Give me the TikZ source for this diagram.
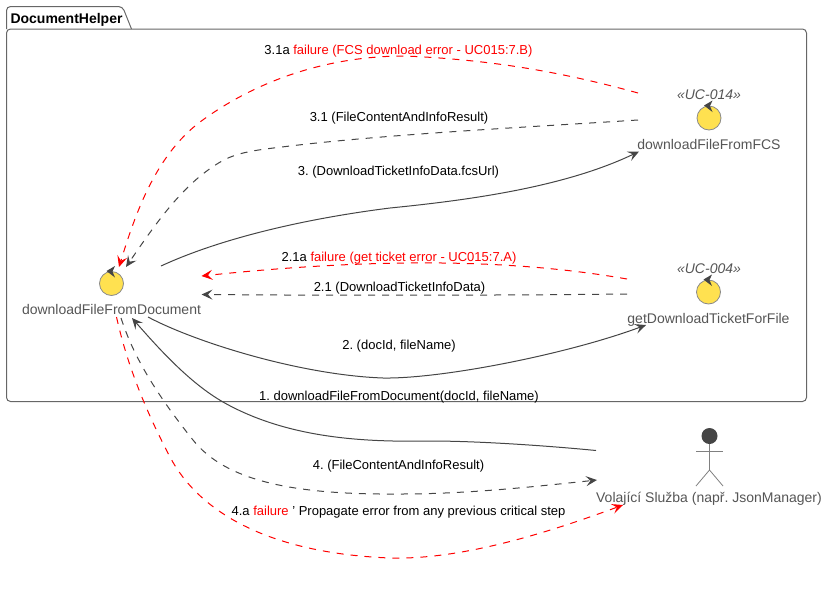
\documentclass[tikz,border=0pt]{standalone}
\usepackage{fontspec}
\setmainfont{Liberation Sans}
\usetikzlibrary{arrows.meta}
\definecolor{ink}{HTML}{454545}
\definecolor{softink}{HTML}{555555}
\definecolor{ucfill}{HTML}{FFE150}
\definecolor{ucline}{HTML}{8A8A8A}
\definecolor{frameline}{HTML}{666666}
\definecolor{stick}{HTML}{808080}
\tikzset{
  ucase/.style={circle,draw=ucline,fill=ucfill,line width=0.8pt,minimum size=24pt,inner sep=0pt},
  uclabel/.style={anchor=base,text=softink,inner sep=0pt,font=\fontsize{14}{16}\selectfont},
  ucster/.style={anchor=base,text=softink,inner sep=0pt,font=\fontsize{14}{16}\selectfont\itshape},
  edgetext/.style={anchor=base,text=black,inner sep=0pt,font=\fontsize{13}{15}\selectfont},
  flowtip/.style={-{Stealth[length=11pt,width=10pt,inset=4.5pt]}},
  solidflow/.style={draw=ink,line width=1pt,flowtip},
  backflow/.style={draw=ink,line width=1pt,dash pattern=on 7pt off 7pt,flowtip},
  failflow/.style={draw=red,line width=1pt,dash pattern=on 7pt off 7pt,flowtip},
}
\begin{document}
\frenchspacing
\begin{tikzpicture}[x=1pt,y=-1pt]
\useasboundingbox (0,0) rectangle (828,598);
% package
\draw[frameline,line width=1pt,rounded corners=4pt] (6.5,29) -- (6.5,6.5) -- (122.5,6.5) -- (131.5,29);
\draw[frameline,line width=1pt,rounded corners=4pt] (6.5,29) rectangle (806.5,401.5);
\node[anchor=base west,inner sep=0pt,font=\fontsize{14}{16}\selectfont\bfseries] (pkg) at (10.3,23.3) {DocumentHelper};
% use cases
\node[ucase] (doc) at (111.5,283.5) {};
\node[ucase] (fcs) at (709,118) {};
\node[ucase] (tick) at (708.5,292) {};
\foreach \n in {doc,fcs,tick}{
  \fill[ink,shift={(\n.center)}] (-5,-12.5) -- (3.5,-17.5) -- (1,-12) -- (3.5,-6) -- cycle;
}
\node[uclabel] (docl) at (111.5,314) {downloadFileFromDocument};
\node[uclabel] (fcsl) at (709,149) {downloadFileFromFCS};
\node[uclabel] (tickl) at (708.5,323) {getDownloadTicketForFile};
\node[ucster] (fcss) at (709,99.5) {«UC-014»};
\node[ucster] (ticks) at (709,273) {«UC-004»};
% actor
\node[circle,fill=ink,minimum size=16pt,inner sep=0pt] (head) at (709.5,436) {};
\coordinate (hip) at (709.5,470);
\draw[stick,line width=0.8pt] (head.south) -- (hip);
\draw[stick,line width=0.8pt] (696,451.5) -- (723,451.5);
\draw[stick,line width=0.8pt] (696,486) -- (hip) -- (723,486);
\node[uclabel] (caller) at (709,502.5) {Volající Služba (např. JsonManager)};
% connector ends
\coordinate (a3a) at (638,93);   \coordinate (b3a) at (119,267);
\coordinate (a31) at (638,120);  \coordinate (b31) at (126,267);
\coordinate (a3) at (161,266);   \coordinate (b3) at (639,151.5);
\coordinate (a21a) at (627,279); \coordinate (b21a) at (201.5,276);
\coordinate (a21) at (627,294);  \coordinate (b21) at (201.5,294.5);
\coordinate (a2) at (148,317);   \coordinate (b2) at (646,325);
\coordinate (a1) at (596,450.5); \coordinate (b1) at (132,318);
\coordinate (a4) at (121,318);   \coordinate (b4) at (597,480);
\coordinate (a4a) at (116.5,317);\coordinate (b4a) at (623,505);
% connectors
\draw[failflow] (a3a) .. controls (573,75) and (500,60) .. (405,56) .. controls (320,56) and (250,85) .. (200,122) .. controls (155,156) and (135,215) .. (b3a);
\draw[backflow] (a31) .. controls (530,127) and (390,134) .. (290,146) .. controls (262,149.5) and (240,151) .. (222,161) .. controls (185,182) and (158,220) .. (b31);
\draw[solidflow] (a3) .. controls (215,241) and (295,220) .. (390,208) .. controls (470,200) and (565,187) .. (b3);
\draw[failflow] (a21a) .. controls (530,262) and (400,255) .. (b21a);
\draw[backflow] (a21) .. controls (500,295.5) and (330,295.5) .. (b21);
\draw[solidflow] (a2) .. controls (195,342) and (300,375) .. (383,378) .. controls (440,379) and (565,355) .. (b2);
\draw[solidflow] (a1) .. controls (550,446) and (480,441) .. (430,441) .. controls (370,442) and (290,440) .. (223,402) .. controls (190,383) and (160,350) .. (b1);
\draw[backflow] (a4) .. controls (130,345) and (145,380) .. (193,440) .. controls (225,480) and (290,495) .. (400,494) .. controls (470,494) and (540,486) .. (b4);
\draw[failflow] (a4a) .. controls (125,355) and (140,400) .. (170,457) .. controls (198,510) and (265,553) .. (390,558) .. controls (465,560) and (555,530) .. (b4a);
% connector labels
\node[edgetext] (t3a) at (398.5,54) {3.1a \textcolor{red}{failure (FCS download error - UC015:7.B)}};
\node[edgetext] (t31) at (399,121) {3.1 (FileContentAndInfoResult)};
\node[edgetext] (t3) at (398.5,175) {3. (DownloadTicketInfoData.fcsUrl)};
\node[edgetext] (t21a) at (399,261) {2.1a \textcolor{red}{failure (get ticket error - UC015:7.A)}};
\node[edgetext] (t21) at (399.5,291) {2.1 (DownloadTicketInfoData)};
\node[edgetext] (t2) at (399,349) {2. (docId, fileName)};
\node[edgetext] (t1) at (399,400) {1. downloadFileFromDocument(docId, fileName)};
\node[edgetext] (t4) at (398.5,469) {4. (FileContentAndInfoResult)};
\node[edgetext] (t4a) at (398.5,515) {4.a \textcolor{red}{failure} ' Propagate error from any previous critical step};
\end{tikzpicture}
\end{document}
